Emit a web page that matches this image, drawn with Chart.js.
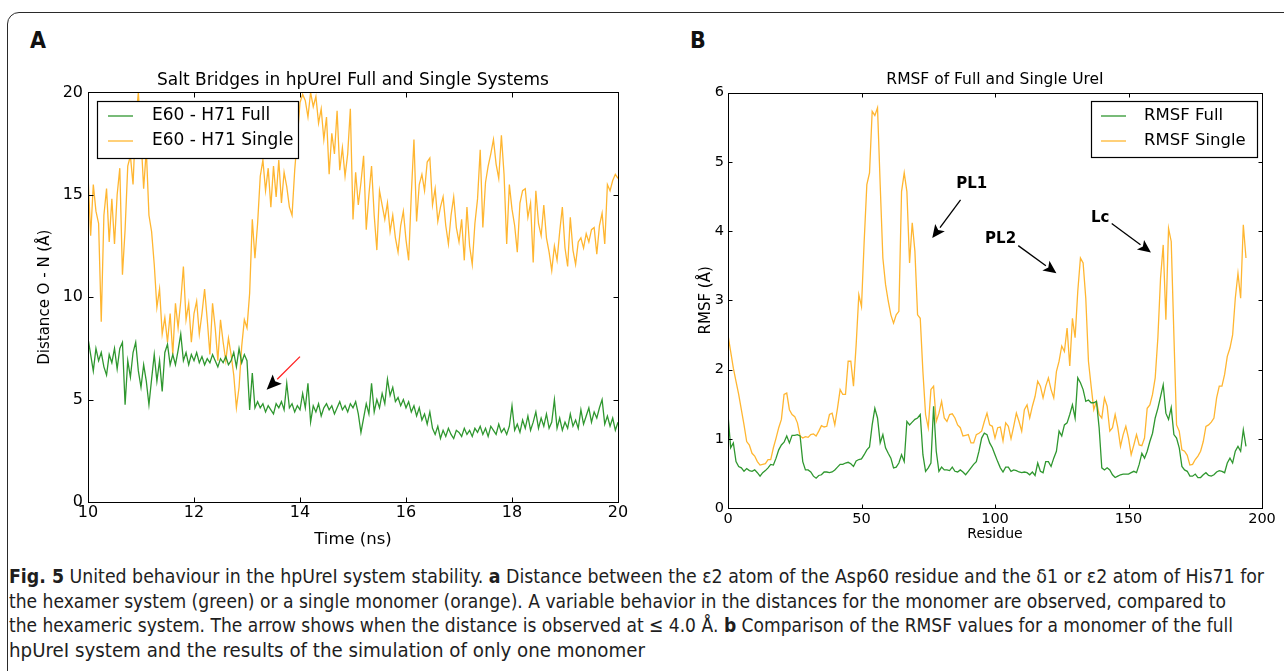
<!DOCTYPE html>
<html>
<head>
<meta charset="utf-8">
<script src="https://cdn.jsdelivr.net/npm/chart.js@4.4.0/dist/chart.umd.min.js"></script>
<style>
body { margin: 0; background: #fff; width: 1284px; height: 671px; overflow: hidden; position: relative; }
#frame { position: absolute; left: 7px; top: 12px; width: 1330px; height: 720px; border: 1.5px solid #2a2a2a; border-radius: 12px; box-sizing: border-box; }
.panel-label { position: absolute; top: 27px; line-height: 26px; font: bold 23px "Liberation Sans Narrow", "DejaVu Sans Condensed", "DejaVu Sans", sans-serif; color: #111; }
canvas { position: absolute; }
.cap { position: absolute; left: 9px; white-space: nowrap; line-height: 24px; font: 20px "Liberation Sans Narrow", "DejaVu Sans Condensed", "DejaVu Sans", sans-serif; color: #1e1e1e; transform-origin: 0 50%; }
</style>
</head>
<body>
<div id="frame"></div>
<div class="panel-label" style="left:30px">A</div>
<div class="panel-label" style="left:690px">B</div>
<canvas id="chartA" width="640" height="490" style="left:0px;top:60px"></canvas>
<canvas id="chartB" width="634" height="483" style="left:650px;top:60px"></canvas>
<div class="cap" style="top:564px" data-w="1255"><b>Fig. 5</b> United behaviour in the hpUreI system stability. <b>a</b> Distance between the ε2 atom of the Asp60 residue and the δ1 or ε2 atom of His71 for</div>
<div class="cap" style="top:589px" data-w="1217">the hexamer system (green) or a single monomer (orange). A variable behavior in the distances for the monomer are observed, compared to</div>
<div class="cap" style="top:613px" data-w="1224">the hexameric system. The arrow shows when the distance is observed at ≤ 4.0 Å. <b>b</b> Comparison of the RMSF values for a monomer of the full</div>
<div class="cap" style="top:638px" data-w="636">hpUreI system and the results of the simulation of only one monomer</div>
<script>
var mplFont = '"DejaVu Sans", "Bitstream Vera Sans", sans-serif';
var greenColor = '#2f972f';
var orangeColor = '#ffb631';

// Panel A: salt bridge distance, sampled every 0.05 ns from 10 to 20 ns
var timeStartNs = 10;
var timeStepNs = 0.05;
var saltLabels = ['E60 - H71 Full', 'E60 - H71 Single'];
var saltFull = [
  8.0, 7.2, 6.4, 7.5, 6.9, 7.3, 6.6, 6.2, 7.2, 6.8,
  7.5, 6.5, 7.5, 7.8, 4.75, 6.9, 6.1, 7.3, 7.8, 6.4,
  5.6, 6.7, 5.9, 4.75, 6.0, 7.2, 5.9, 6.9, 5.4, 7.3,
  7.7, 6.7, 7.2, 6.7, 7.4, 8.2, 6.9, 7.3, 6.7, 7.2,
  6.9, 7.3, 6.8, 7.1, 6.7, 7.0, 6.8, 7.2, 6.9, 6.6,
  7.0, 6.8, 7.1, 6.7, 6.9, 7.3, 6.6, 7.5, 6.8, 7.2,
  6.9, 4.5, 6.3, 4.6, 4.9, 4.6, 4.8, 4.4, 4.7, 4.5,
  4.3, 4.8, 4.6, 4.9, 4.5, 5.8, 4.6, 4.8, 4.4, 4.7,
  4.5, 5.3, 4.6, 5.8, 3.9, 4.7, 4.4, 4.8, 4.2, 4.6,
  4.8, 4.5, 4.7, 4.3, 4.6, 4.9, 4.5, 4.7, 4.4, 4.8,
  4.6, 4.9, 4.3, 3.4, 4.1, 4.8, 4.3, 5.8, 4.4, 5.0,
  4.6, 5.3, 4.8, 6.0, 5.2, 5.6, 4.9, 5.1, 4.7, 5.0,
  4.6, 4.9, 4.4, 4.7, 4.2, 4.6, 4.0, 4.3, 3.8, 4.4,
  3.6, 3.3, 3.7, 3.1, 3.5, 3.2, 3.6, 3.3, 3.1, 3.5,
  3.4, 3.2, 3.6, 3.3, 3.5, 3.2, 3.6, 3.4, 3.7, 3.3,
  3.6, 3.2, 3.7, 3.5, 3.3, 3.8, 3.4, 3.6, 3.3, 3.7,
  4.7, 3.5, 3.8, 3.4, 4.0, 3.6, 4.2, 3.5, 3.9, 4.4,
  3.6, 4.1, 3.7, 4.3, 3.6, 3.9, 5.0, 3.6, 4.1, 3.5,
  3.9, 3.6, 4.3, 3.7, 4.0, 3.6, 4.5, 3.8, 4.2, 4.6,
  3.9, 4.4, 4.1, 4.6, 5.0, 3.8, 4.2, 3.7, 4.1, 3.5,
  3.9
];
var saltSingle = [
  16.0, 13.0, 15.5, 14.2, 13.6, 8.8, 14.0, 15.3, 12.7, 14.8,
  12.6, 15.0, 16.3, 11.1, 13.3, 16.4, 16.9, 15.5, 18.6, 20.0,
  17.8, 15.3, 17.2, 14.0, 13.2, 11.6, 9.5, 10.4, 8.2, 9.0,
  7.8, 9.2, 7.2, 9.7, 8.5, 9.8, 11.5, 8.9, 9.7, 7.8,
  9.2, 9.8, 8.2, 9.2, 10.4, 8.9, 7.2, 9.7, 8.5, 6.9,
  8.9, 7.8, 6.9, 8.0, 7.2, 6.2, 4.6, 5.6, 7.6, 8.9,
  8.5, 10.2, 13.8, 11.9, 13.6, 15.9, 16.7, 15.2, 16.3, 14.4,
  16.4, 14.9, 16.7, 14.6, 16.1, 15.4, 14.4, 14.0, 16.2, 17.8,
  19.5, 19.9, 19.6, 18.8, 20.0, 19.3, 19.8, 18.5, 19.2, 17.7,
  18.8, 16.0, 18.0, 17.0, 19.1, 16.2, 17.3, 15.9, 17.0, 19.2,
  13.8, 16.1, 14.5, 15.6, 16.9, 13.3, 15.0, 16.4, 14.0, 12.3,
  15.2, 14.5, 13.8, 14.6, 13.2, 14.0, 12.9, 12.2, 13.5, 14.2,
  12.8, 11.8, 15.0, 17.7, 13.7, 15.5, 16.0, 15.2, 16.6, 16.8,
  14.5, 15.3, 13.7, 14.4, 14.9, 13.5, 12.6, 14.0, 14.9, 13.4,
  12.7, 13.8, 11.8, 14.4, 12.5, 11.6, 13.6, 14.8, 17.2, 13.4,
  15.6, 16.4, 17.0, 17.7, 16.5, 15.8, 17.9, 16.0, 12.6, 15.5,
  14.3, 13.5, 12.2, 14.6, 15.2, 15.3, 13.9, 14.6, 11.7, 15.2,
  13.6, 13.0, 14.5, 12.9, 12.2, 11.3, 12.5, 11.8, 13.2, 14.4,
  12.4, 11.5, 13.9, 12.3, 11.6, 12.7, 12.9, 12.4, 13.1, 12.7,
  13.3, 13.4, 12.1, 13.5, 14.1, 12.6, 15.5, 15.2, 15.7, 16.0,
  15.8
];

// Panel B: RMSF per residue (residue 0 .. 194)
var rmsfLabels = ['RMSF Full', 'RMSF Single'];
var rmsfFull = [
  1.35, 0.87, 0.94, 0.67, 0.60, 0.58, 0.53, 0.57, 0.54, 0.53,
  0.55, 0.51, 0.46, 0.51, 0.54, 0.58, 0.63, 0.62, 0.72, 0.84,
  0.91, 0.95, 1.04, 0.94, 1.05, 1.05, 1.06, 1.04, 0.67, 0.55,
  0.55, 0.52, 0.46, 0.43, 0.47, 0.48, 0.52, 0.52, 0.51, 0.52,
  0.55, 0.59, 0.63, 0.63, 0.65, 0.66, 0.64, 0.60, 0.68, 0.70,
  0.71, 0.77, 0.84, 0.88, 1.20, 1.44, 1.30, 0.94, 1.06, 0.87,
  0.79, 0.72, 0.58, 0.59, 0.65, 0.77, 0.67, 1.25, 1.20, 1.24,
  1.28, 1.30, 1.35, 0.77, 0.53, 0.58, 0.65, 1.47, 0.82, 0.53,
  0.59, 0.55, 0.55, 0.54, 0.59, 0.53, 0.52, 0.55, 0.52, 0.48,
  0.53, 0.58, 0.63, 0.67, 0.82, 1.01, 1.08, 1.06, 0.94, 0.87,
  0.77, 0.67, 0.58, 0.52, 0.59, 0.59, 0.53, 0.55, 0.54, 0.52,
  0.51, 0.52, 0.51, 0.48, 0.52, 0.47, 0.65, 0.53, 0.51, 0.67,
  0.67, 0.60, 0.72, 0.82, 1.11, 1.04, 1.20, 1.23, 1.35, 1.49,
  1.30, 1.88, 1.81, 1.71, 1.54, 1.56, 1.52, 1.52, 1.54, 1.16,
  0.58, 0.55, 0.58, 0.55, 0.48, 0.44, 0.46, 0.48, 0.49, 0.49,
  0.49, 0.51, 0.53, 0.51, 0.63, 0.79, 0.72, 0.82, 0.96, 1.08,
  1.30, 1.44, 1.61, 1.78, 1.37, 1.28, 1.45, 1.06, 1.01, 0.87,
  0.60, 0.55, 0.53, 0.46, 0.46, 0.49, 0.44, 0.44, 0.48, 0.51,
  0.47, 0.46, 0.48, 0.52, 0.54, 0.53, 0.51, 0.65, 0.72, 0.65,
  0.82, 0.89, 0.82, 1.13, 0.89
];
var rmsfSingle = [
  2.50, 2.26, 2.02, 1.83, 1.64, 1.42, 1.20, 0.96, 0.91, 0.79,
  0.75, 0.67, 0.62, 0.63, 0.64, 0.70, 0.70, 0.87, 1.01, 1.16,
  1.28, 1.64, 1.66, 1.42, 1.35, 1.32, 1.23, 1.04, 1.01, 1.03,
  1.02, 1.06, 1.07, 1.04, 1.11, 1.19, 1.17, 1.18, 1.35, 1.37,
  1.20, 1.44, 1.71, 1.64, 1.64, 2.12, 2.12, 1.76, 2.36, 3.08,
  2.91, 3.85, 4.67, 4.84, 5.73, 5.67, 5.78, 4.67, 3.61, 3.23,
  2.99, 2.79, 2.67, 2.79, 2.84, 4.57, 4.84, 4.57, 3.54, 4.12,
  3.71, 2.79, 2.74, 1.97, 1.35, 1.16, 1.71, 1.76, 1.25, 1.37,
  1.54, 1.30, 1.25, 1.35, 1.36, 1.30, 1.20, 1.16, 1.04, 1.05,
  1.06, 0.94, 0.94, 1.06, 1.08, 1.11, 1.25, 1.37, 1.20, 1.18,
  1.01, 1.16, 1.17, 0.97, 1.23, 1.18, 1.00, 1.18, 1.37, 1.25,
  1.11, 1.42, 1.49, 1.30, 1.47, 1.61, 1.83, 1.76, 1.59, 1.76,
  1.88, 1.71, 1.59, 1.97, 2.12, 2.34, 2.26, 2.60, 2.05, 2.74,
  2.46, 3.13, 3.61, 3.54, 3.03, 2.12, 1.76, 1.42, 1.54, 1.35,
  1.30, 1.59, 1.47, 1.11, 1.16, 1.35, 1.16, 0.89, 1.06, 1.18,
  1.01, 0.77, 0.91, 1.06, 0.91, 0.90, 1.01, 1.44, 1.49, 1.64,
  1.88, 2.46, 3.32, 3.80, 2.72, 4.04, 3.85, 2.50, 1.20, 1.11,
  0.84, 0.82, 0.76, 0.62, 0.63, 0.70, 0.75, 0.82, 0.96, 1.18,
  1.20, 1.24, 1.30, 1.59, 1.76, 1.76, 1.93, 2.19, 2.31, 2.50,
  3.03, 3.39, 3.03, 4.09, 3.61
];

function toPoints(values, x0, dx) {
  return values.map(function (v, i) { return { x: x0 + i * dx, y: v }; });
}

function drawArrow(ctx, x0, y0, x1, y1, shaftColor, headColor, headLen, headHalf) {
  var ang = Math.atan2(y1 - y0, x1 - x0);
  var bx = x1 - headLen * Math.cos(ang), by = y1 - headLen * Math.sin(ang);
  ctx.strokeStyle = shaftColor;
  ctx.lineWidth = 1.3;
  ctx.beginPath();
  ctx.moveTo(x0, y0);
  ctx.lineTo(bx, by);
  ctx.stroke();
  ctx.fillStyle = headColor;
  ctx.beginPath();
  ctx.moveTo(x1, y1);
  ctx.lineTo(bx + headHalf * Math.sin(ang), by - headHalf * Math.cos(ang));
  ctx.lineTo(bx + 3 * Math.cos(ang), by + 3 * Math.sin(ang));
  ctx.lineTo(bx - headHalf * Math.sin(ang), by + headHalf * Math.cos(ang));
  ctx.closePath();
  ctx.fill();
}

// matplotlib look: closed frame, inward ticks on all sides, boxed legend, arrows
var mplPlugin = {
  id: 'mpl',
  afterDatasetsDraw: function (chart, args, opts) {
    var ctx = chart.ctx, area = chart.chartArea;
    var xs = chart.scales.x, ys = chart.scales.y;
    var L = Math.round(area.left) + 0.5, T = Math.round(area.top) + 0.5;
    var R = Math.round(area.right) + 0.5, B = Math.round(area.bottom) + 0.5;
    ctx.save();
    ctx.strokeStyle = '#000';
    ctx.lineWidth = 1;
    ctx.strokeRect(L, T, R - L, B - T);
    ctx.beginPath();
    xs.ticks.forEach(function (t) {
      var px = Math.round(xs.getPixelForValue(t.value)) + 0.5;
      ctx.moveTo(px, B); ctx.lineTo(px, B - opts.tickLen);
      ctx.moveTo(px, T); ctx.lineTo(px, T + opts.tickLen);
    });
    ys.ticks.forEach(function (t) {
      var py = Math.round(ys.getPixelForValue(t.value)) + 0.5;
      ctx.moveTo(L, py); ctx.lineTo(L + opts.tickLen, py);
      ctx.moveTo(R, py); ctx.lineTo(R - opts.tickLen, py);
    });
    ctx.stroke();

    (opts.arrows || []).forEach(function (a) {
      drawArrow(ctx, xs.getPixelForValue(a.from[0]), ys.getPixelForValue(a.from[1]),
        xs.getPixelForValue(a.to[0]), ys.getPixelForValue(a.to[1]),
        a.color, a.headColor, a.headLen, a.headHalf);
    });
    ctx.textAlign = 'center';
    ctx.textBaseline = 'middle';
    (opts.notes || []).forEach(function (n) {
      ctx.font = n.font;
      ctx.fillStyle = '#000';
      ctx.fillText(n.text, xs.getPixelForValue(n.at[0]), ys.getPixelForValue(n.at[1]));
    });

    var lg = opts.legend;
    var x = lg.side === 'left' ? Math.round(area.left + lg.dx) : Math.round(area.right - lg.dx - lg.w);
    var y = Math.round(area.top + lg.dy);
    ctx.fillStyle = '#fff';
    ctx.fillRect(x, y, lg.w, lg.h);
    ctx.strokeStyle = '#000';
    ctx.lineWidth = 1.2;
    ctx.strokeRect(x + 0.5, y + 0.5, lg.w, lg.h);
    ctx.font = lg.font;
    ctx.textAlign = 'left';
    ctx.textBaseline = 'middle';
    chart.data.datasets.forEach(function (ds, i) {
      var ry = y + lg.row0 + i * lg.rowGap;
      ctx.strokeStyle = ds.borderColor;
      ctx.lineWidth = ds.borderWidth;
      ctx.beginPath();
      ctx.moveTo(x + lg.sx0, ry);
      ctx.lineTo(x + lg.sx1, ry);
      ctx.stroke();
      ctx.fillStyle = '#000';
      ctx.fillText(ds.label, x + lg.tx, ry);
    });
    ctx.restore();
  }
};
Chart.register(mplPlugin);
Chart.defaults.color = '#000';
Chart.defaults.font.family = mplFont;

function lineSet(label, points, color) {
  return { label: label, data: points, borderColor: color, borderWidth: 1.3, pointRadius: 0, tension: 0, fill: false };
}

new Chart(document.getElementById('chartA'), {
  type: 'line',
  data: {
    datasets: [
      lineSet(saltLabels[0], toPoints(saltFull, timeStartNs, timeStepNs), greenColor),
      lineSet(saltLabels[1], toPoints(saltSingle, timeStartNs, timeStepNs), orangeColor)
    ]
  },
  options: {
    responsive: false,
    animation: false,
    layout: { padding: { left: 36, right: 22, top: 10, bottom: 0 } },
    plugins: {
      legend: { display: false },
      tooltip: { enabled: false },
      title: {
        display: true, fullSize: false, text: 'Salt Bridges in hpUreI Full and Single Systems',
        color: '#000', font: { family: mplFont, size: 17, weight: 'normal' }, padding: { top: 0, bottom: 2 }
      },
      mpl: {
        tickLen: 5,
        legend: { side: 'left', dx: 9, dy: 9, w: 201, h: 57, row0: 15, rowGap: 25, sx0: 11, sx1: 36, tx: 55, font: '17px ' + mplFont },
        arrows: [{ from: [14.0, 7.1], to: [13.37, 5.48], color: '#ff1f1f', headColor: '#000', headLen: 15, headHalf: 6.5 }]
      }
    },
    scales: {
      x: {
        type: 'linear', min: 10, max: 20,
        ticks: { stepSize: 2, padding: 1, maxRotation: 0, font: { size: 16 } },
        grid: { display: false, drawTicks: false }, border: { display: false },
        title: { display: true, text: 'Time (ns)', padding: 0, font: { size: 16.5 } },
        afterFit: function (s) { s.height = 48; }
      },
      y: {
        min: 0, max: 20,
        ticks: { stepSize: 5, padding: 5, font: { size: 16 } },
        grid: { display: false, drawTicks: false }, border: { display: false },
        title: { display: true, text: 'Distance O - N (Å)', padding: 0, font: { size: 15 } },
        afterFit: function (s) { s.width = 52; }
      }
    }
  }
});

new Chart(document.getElementById('chartB'), {
  type: 'line',
  data: {
    datasets: [
      lineSet(rmsfLabels[0], toPoints(rmsfFull, 0, 1), greenColor),
      lineSet(rmsfLabels[1], toPoints(rmsfSingle, 0, 1), orangeColor)
    ]
  },
  options: {
    responsive: false,
    animation: false,
    layout: { padding: { left: 47, right: 22, top: 11, bottom: 0 } },
    plugins: {
      legend: { display: false },
      tooltip: { enabled: false },
      title: {
        display: true, fullSize: false, text: 'RMSF of Full and Single UreI',
        color: '#000', font: { family: mplFont, size: 15.5, weight: 'normal' }, padding: { top: 0, bottom: 3 }
      },
      mpl: {
        tickLen: 4,
        legend: { side: 'right', dx: 5, dy: 8, w: 166, h: 56, row0: 15, rowGap: 25, sx0: 10, sx1: 35, tx: 53, font: '16.5px ' + mplFont },
        arrows: [
          { from: [87.1, 4.45], to: [76.5, 3.9], color: '#000', headColor: '#000', headLen: 13, headHalf: 6 },
          { from: [108.7, 3.79], to: [123.0, 3.39], color: '#000', headColor: '#000', headLen: 13, headHalf: 6 },
          { from: [143.7, 4.11], to: [158.4, 3.69], color: '#000', headColor: '#000', headLen: 13, headHalf: 6 }
        ],
        notes: [
          { text: 'PL1', at: [91.3, 4.68], font: 'bold 15px ' + mplFont },
          { text: 'PL2', at: [102.1, 3.88], font: 'bold 15px ' + mplFont },
          { text: 'Lc', at: [139.4, 4.18], font: 'bold 15px ' + mplFont }
        ]
      }
    },
    scales: {
      x: {
        type: 'linear', min: 0, max: 200,
        ticks: { stepSize: 50, padding: 3, maxRotation: 0, font: { size: 14.5 } },
        grid: { display: false, drawTicks: false }, border: { display: false },
        title: { display: true, text: 'Residue', padding: 0, font: { size: 14 } },
        afterFit: function (s) { s.height = 35; }
      },
      y: {
        min: 0, max: 6,
        ticks: { stepSize: 1, padding: 4, font: { size: 14.5 } },
        grid: { display: false, drawTicks: false }, border: { display: false },
        title: { display: true, text: 'RMSF (Å)', padding: 0, font: { size: 15 } },
        afterFit: function (s) { s.width = 31; }
      }
    }
  }
});

// fit each caption line to the width it has in the figure
function fitCaption() {
  document.querySelectorAll('.cap').forEach(function (el) {
    el.style.transform = 'none';
    var w = el.getBoundingClientRect().width;
    var target = parseFloat(el.getAttribute('data-w'));
    if (w > 0) el.style.transform = 'scaleX(' + (target / w) + ')';
  });
}
fitCaption();
if (document.fonts && document.fonts.ready) document.fonts.ready.then(fitCaption);
</script>
</body>
</html>
